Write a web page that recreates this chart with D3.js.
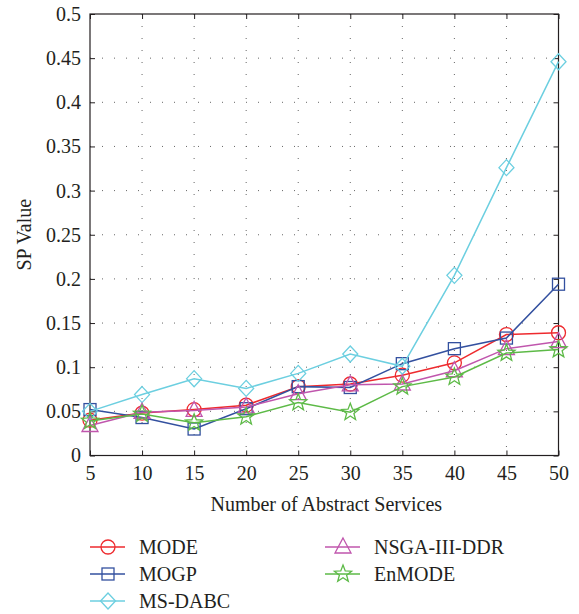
<!DOCTYPE html>
<html>
<head>
<meta charset="utf-8">
<script src="https://cdn.jsdelivr.net/npm/d3@7"></script>
<style>
  body { margin: 0; background: #fff; }
  text { font-family: "Liberation Serif", "DejaVu Serif", serif; fill: #231f20; }
</style>
</head>
<body>
<div id="chart"></div>
<script>
var services = [5, 10, 15, 20, 25, 30, 35, 40, 45, 50];
var yTicks = [0, 0.05, 0.1, 0.15, 0.2, 0.25, 0.3, 0.35, 0.4, 0.45, 0.5];

var mode    = [0.040, 0.048, 0.052, 0.057, 0.078, 0.081, 0.091, 0.105, 0.137, 0.139];
var mogp    = [0.052, 0.043, 0.030, 0.053, 0.078, 0.077, 0.104, 0.121, 0.133, 0.194];
var msdabc  = [0.050, 0.069, 0.087, 0.076, 0.093, 0.115, 0.101, 0.204, 0.326, 0.446];
var nsga    = [0.034, 0.049, 0.051, 0.055, 0.070, 0.080, 0.081, 0.096, 0.121, 0.129];
var enmode  = [0.039, 0.047, 0.037, 0.044, 0.060, 0.049, 0.078, 0.089, 0.116, 0.120];

var series = [
  {name: "MODE", values: mode, color: "#ee2a2e", marker: "circle"},
  {name: "MOGP", values: mogp, color: "#33509f", marker: "square"},
  {name: "MS-DABC", values: msdabc, color: "#6ccfe0", marker: "diamond"},
  {name: "NSGA-III-DDR", values: nsga, color: "#c056ad", marker: "triangle"},
  {name: "EnMODE", values: enmode, color: "#5dba47", marker: "star"}
];

var margin = {top: 14, left: 90};
var W = 579, H = 614;
var pw = 468.5, ph = 441.5;
var serif = "Liberation Serif, DejaVu Serif, serif";

var svg = d3.select("#chart").append("svg")
    .attr("width", W).attr("height", H);
var g = svg.append("g")
    .attr("transform", "translate(" + margin.left + "," + margin.top + ")");

var x = d3.scaleLinear().domain([5, 50]).range([0, pw]);
var y = d3.scaleLinear().domain([0, 0.5]).range([ph, 0]);

// grid
g.append("g").selectAll("line").data(services.slice(1, -1)).enter().append("line")
    .attr("x1", d => x(d)).attr("x2", d => x(d)).attr("y1", 0).attr("y2", ph)
    .attr("stroke", "#555").attr("stroke-width", 0.9).attr("stroke-dasharray", "1,11");
g.append("g").selectAll("line").data(yTicks.slice(1, -1)).enter().append("line")
    .attr("x1", 0).attr("x2", pw).attr("y1", d => y(d)).attr("y2", d => y(d))
    .attr("stroke", "#555").attr("stroke-width", 0.9).attr("stroke-dasharray", "1,11");

// axes
var fmt = d => String(d);
var xAxis = g.append("g").attr("transform", "translate(0," + ph + ")")
    .call(d3.axisBottom(x).tickValues(services).tickSizeInner(-5).tickSizeOuter(0).tickPadding(10).tickFormat(fmt));
var yAxis = g.append("g")
    .call(d3.axisLeft(y).tickValues(yTicks).tickSizeInner(-5).tickSizeOuter(0).tickPadding(9).tickFormat(fmt));
g.append("g")
    .call(d3.axisTop(x).tickValues(services).tickSizeInner(-5).tickSizeOuter(0).tickFormat(""))
    .attr("class", "extra");
g.append("g").attr("transform", "translate(" + pw + ",0)")
    .call(d3.axisRight(y).tickValues(yTicks).tickSizeInner(-5).tickSizeOuter(0).tickFormat(""))
    .attr("class", "extra");
g.selectAll(".domain").remove();
[xAxis, yAxis].forEach(function(a) {
  a.attr("font-family", serif).attr("font-size", 20);
  a.selectAll("text").attr("fill", "#231f20");
});
g.selectAll(".tick line").attr("stroke", "#231f20");
g.append("rect").attr("width", pw).attr("height", ph)
    .attr("fill", "none").attr("stroke", "#231f20").attr("stroke-width", 1.2);

// titles
svg.append("text").attr("x", margin.left + pw / 2 + 2).attr("y", 511)
    .attr("text-anchor", "middle").attr("font-size", 20).text("Number of Abstract Services");
svg.append("text").attr("transform", "translate(31," + (margin.top + ph / 2) + ") rotate(-90)")
    .attr("text-anchor", "middle").attr("font-size", 20).text("SP Value");

function drawMarker(sel, type, color) {
  if (type === "circle") {
    sel.append("circle").attr("r", 7);
  } else if (type === "square") {
    sel.append("rect").attr("x", -6).attr("y", -6).attr("width", 12).attr("height", 12);
  } else if (type === "diamond") {
    sel.append("path").attr("d", "M0,-8L7.5,0L0,8L-7.5,0Z");
  } else if (type === "triangle") {
    sel.append("path").attr("d", "M0,-9L8,6L-8,6Z");
  } else {
    var pts = [];
    for (var i = 0; i < 10; i++) {
      var r = i % 2 === 0 ? 9 : 3.8, a = -Math.PI / 2 + i * Math.PI / 5;
      pts.push([r * Math.cos(a), r * Math.sin(a)]);
    }
    sel.append("path").attr("d", "M" + pts.join("L") + "Z");
  }
  sel.selectAll("*").attr("fill", "none").attr("stroke", color).attr("stroke-width", 1.3);
}

var line = d3.line().x((d, i) => x(services[i])).y(d => y(d));

series.forEach(function(s) {
  g.append("path").datum(s.values).attr("d", line)
    .attr("fill", "none").attr("stroke", s.color).attr("stroke-width", 1.5);
  s.values.forEach(function(v, i) {
    var m = g.append("g").attr("transform", "translate(" + x(services[i]) + "," + y(v) + ")");
    drawMarker(m, s.marker, s.color);
  });
});

// legend
var legendPos = [[90, 547], [90, 574], [90, 601], [325, 547], [325, 574]];
series.forEach(function(s, i) {
  var lg = svg.append("g").attr("transform", "translate(" + legendPos[i][0] + "," + legendPos[i][1] + ")");
  lg.append("line").attr("x1", 0).attr("x2", 35).attr("stroke", s.color).attr("stroke-width", 1.5);
  var m = lg.append("g").attr("transform", "translate(18,0)");
  drawMarker(m, s.marker, s.color);
  lg.append("text").attr("x", 49).attr("y", 7).attr("font-size", 20).text(s.name);
});
</script>
</body>
</html>
